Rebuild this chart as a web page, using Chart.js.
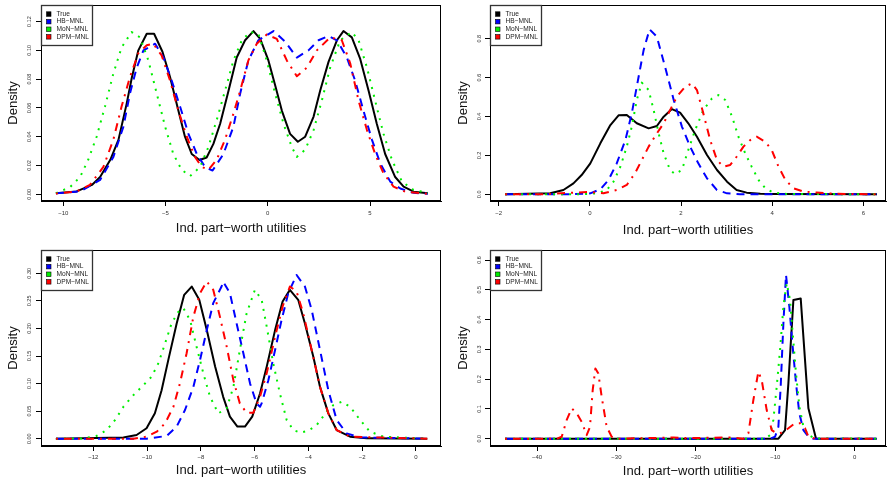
<!DOCTYPE html>
<html>
<head>
<meta charset="utf-8">
<script src="https://cdn.jsdelivr.net/npm/chart.js@4.4.0/dist/chart.umd.min.js"></script>
<style>
  html, body { margin: 0; padding: 0; background: #fff; }
  #wrap { position: relative; width: 887px; height: 482px; }
  .panel { position: absolute; }
</style>
</head>
<body>
<div id="wrap">
  <div class="panel" style="left:0;top:0;width:443px;height:241px"><canvas id="c1"></canvas></div>
  <div class="panel" style="left:443px;top:0;width:444px;height:241px"><canvas id="c2"></canvas></div>
  <div class="panel" style="left:0;top:241px;width:443px;height:241px"><canvas id="c3"></canvas></div>
  <div class="panel" style="left:443px;top:241px;width:444px;height:241px"><canvas id="c4"></canvas></div>
</div>
<script>
const seriesNames = ['True', 'HB\u2212MNL', 'MoN\u2212MNL', 'DPM\u2212MNL'];
const seriesColors = ['#000000', '#0000ff', '#00ee00', '#ff0000'];
const seriesDash = [[], [8, 6], [2, 6], [2, 6, 8, 6]];

const xTitle = 'Ind. part\u2212worth utilities';
const yTitle = 'Density';

// panel 1 (top left), [x, density]
const p1True = [[-10.36,0.0007],[-9.35,0.002],[-8.6,0.0065],[-8.2,0.012],[-7.7,0.024],[-7.3,0.038],[-6.9,0.063],[-6.65,0.081],[-6.33,0.100],[-5.92,0.1115],[-5.56,0.1115],[-5.15,0.099],[-4.78,0.0815],[-4.37,0.058],[-4.05,0.040],[-3.72,0.028],[-3.34,0.0238],[-2.99,0.0256],[-2.66,0.035],[-2.33,0.049],[-1.92,0.072],[-1.52,0.095],[-1.11,0.107],[-0.70,0.1134],[-0.37,0.108],[0.03,0.093],[0.36,0.0757],[0.69,0.058],[1.09,0.042],[1.47,0.0365],[1.83,0.040],[2.24,0.054],[2.56,0.072],[2.97,0.092],[3.38,0.107],[3.70,0.1134],[4.11,0.109],[4.52,0.094],[4.93,0.072],[5.33,0.049],[5.74,0.028],[6.23,0.012],[6.64,0.0053],[7.13,0.0018],[7.83,0.0007]];
const p1HB = [[-10.36,0.0007],[-9.18,0.002],[-8.2,0.010],[-7.55,0.026],[-7.06,0.047],[-6.74,0.070],[-6.41,0.088],[-6.08,0.100],[-5.51,0.1046],[-5.1,0.095],[-4.7,0.079],[-4.29,0.061],[-3.88,0.042],[-3.47,0.028],[-3.07,0.019],[-2.7,0.0165],[-2.17,0.028],[-1.68,0.047],[-1.35,0.070],[-0.95,0.093],[-0.46,0.107],[0.28,0.1134],[0.85,0.106],[1.42,0.095],[1.99,0.100],[2.48,0.107],[2.97,0.110],[3.38,0.107],[3.87,0.095],[4.27,0.079],[4.68,0.058],[5.09,0.038],[5.50,0.0215],[5.99,0.0088],[6.48,0.004],[7.13,0.001],[7.83,0.0004]];
const p1MoN = [[-10.36,0.0007],[-9.67,0.005],[-9.18,0.012],[-8.78,0.024],[-8.37,0.040],[-7.96,0.061],[-7.55,0.084],[-7.15,0.102],[-6.66,0.1127],[-6.25,0.109],[-5.84,0.093],[-5.43,0.070],[-5.02,0.047],[-4.62,0.028],[-4.21,0.017],[-3.8,0.0127],[-3.31,0.019],[-2.9,0.033],[-2.5,0.0515],[-2.09,0.072],[-1.68,0.093],[-1.27,0.107],[-0.86,0.1127],[-0.46,0.1115],[-0.05,0.093],[0.36,0.070],[0.77,0.049],[1.17,0.033],[1.42,0.026],[1.83,0.031],[2.24,0.0446],[2.64,0.065],[3.05,0.088],[3.54,0.107],[4.11,0.1127],[4.44,0.107],[4.85,0.088],[5.25,0.065],[5.66,0.042],[6.07,0.024],[6.56,0.0088],[7.13,0.003],[7.83,0.001]];
const p1DPM = [[-10.36,0.0005],[-9.35,0.002],[-8.7,0.0065],[-8.04,0.019],[-7.55,0.038],[-7.15,0.061],[-6.74,0.0815],[-6.33,0.098],[-5.92,0.1035],[-5.6,0.1046],[-5.19,0.0965],[-4.78,0.079],[-4.37,0.058],[-3.96,0.040],[-3.56,0.026],[-3.23,0.019],[-2.9,0.017],[-2.5,0.024],[-2.09,0.038],[-1.68,0.056],[-1.35,0.072],[-0.95,0.093],[-0.54,0.1046],[-0.05,0.111],[0.44,0.108],[0.93,0.093],[1.42,0.082],[1.91,0.088],[2.4,0.100],[3.05,0.109],[3.62,0.107],[4.03,0.091],[4.44,0.065],[4.85,0.0446],[5.25,0.028],[5.66,0.0145],[6.15,0.0053],[6.72,0.0018],[7.83,0.0004]];
const p1XTicks = [-10, -5, 0, 5];
const p1YTicks = [0, 0.02, 0.04, 0.06, 0.08, 0.10, 0.12];

// panel 2 (top right)
const p2True = [[-1.86,0],[-0.87,0.005],[-0.58,0.022],[-0.36,0.056],[-0.18,0.099],[0.01,0.159],[0.23,0.262],[0.45,0.356],[0.63,0.406],[0.81,0.408],[1.03,0.365],[1.29,0.339],[1.47,0.351],[1.62,0.399],[1.80,0.438],[1.98,0.420],[2.16,0.365],[2.35,0.296],[2.57,0.202],[2.79,0.125],[3.01,0.065],[3.22,0.022],[3.44,0.0086],[3.74,0.003],[4.03,0.0017],[6.30,0]];
const p2HB = [[-1.86,0],[-0.5,0],[0.01,0.005],[0.23,0.026],[0.41,0.074],[0.59,0.159],[0.78,0.279],[0.92,0.416],[1.07,0.604],[1.18,0.741],[1.31,0.848],[1.47,0.810],[1.65,0.656],[1.84,0.485],[2.02,0.348],[2.2,0.245],[2.38,0.159],[2.57,0.082],[2.79,0.022],[3.01,0.005],[3.3,0],[6.30,0]];
const p2MoN = [[-1.86,0],[-0.21,0],[0.15,0.005],[0.37,0.022],[0.52,0.065],[0.67,0.142],[0.81,0.245],[0.92,0.348],[1.03,0.485],[1.14,0.574],[1.29,0.536],[1.40,0.433],[1.51,0.313],[1.62,0.210],[1.76,0.125],[1.87,0.104],[2.02,0.125],[2.16,0.228],[2.31,0.330],[2.49,0.433],[2.68,0.493],[2.82,0.510],[2.97,0.485],[3.12,0.399],[3.26,0.296],[3.41,0.210],[3.55,0.142],[3.70,0.074],[3.85,0.031],[4.03,0.0086],[4.32,0.002],[6.30,0]];
const p2DPM = [[-1.86,0],[-1.09,0],[-0.29,0.009],[0.01,0.012],[0.30,0.005],[0.59,0.022],[0.81,0.048],[0.99,0.108],[1.14,0.176],[1.29,0.245],[1.47,0.313],[1.62,0.365],[1.76,0.433],[1.91,0.502],[2.09,0.553],[2.24,0.570],[2.35,0.536],[2.49,0.416],[2.64,0.279],[2.79,0.176],[2.93,0.142],[3.08,0.151],[3.22,0.193],[3.37,0.245],[3.52,0.279],[3.66,0.296],[3.85,0.270],[3.99,0.228],[4.14,0.142],[4.29,0.074],[4.47,0.031],[4.69,0.014],[4.98,0.009],[5.35,0.003],[6.30,0]];
const p2XTicks = [-2, 0, 2, 4, 6];
const p2YTicks = [0, 0.2, 0.4, 0.6, 0.8];

// panel 3 (bottom left)
const p3True = [[-13.39,0],[-10.88,0.002],[-10.39,0.0067],[-10.02,0.019],[-9.71,0.046],[-9.46,0.088],[-9.21,0.143],[-8.9,0.209],[-8.62,0.261],[-8.34,0.276],[-8.06,0.252],[-7.78,0.197],[-7.47,0.131],[-7.17,0.076],[-6.92,0.040],[-6.64,0.022],[-6.36,0.022],[-6.09,0.040],[-5.8,0.082],[-5.55,0.131],[-5.24,0.197],[-4.96,0.249],[-4.69,0.270],[-4.38,0.252],[-4.13,0.209],[-3.82,0.149],[-3.57,0.094],[-3.26,0.046],[-2.95,0.0157],[-2.45,0.0036],[-1.83,0.0006],[0.42,0]];
const p3HB = [[-13.39,0],[-10.02,0],[-9.27,0.005],[-8.9,0.022],[-8.59,0.052],[-8.28,0.094],[-8.03,0.143],[-7.78,0.197],[-7.54,0.246],[-7.23,0.276],[-7.17,0.285],[-6.92,0.264],[-6.67,0.209],[-6.42,0.155],[-6.17,0.100],[-5.93,0.064],[-5.8,0.058],[-5.74,0.064],[-5.49,0.106],[-5.24,0.161],[-5.0,0.215],[-4.75,0.264],[-4.44,0.297],[-4.13,0.276],[-3.88,0.234],[-3.57,0.161],[-3.26,0.088],[-2.95,0.034],[-2.58,0.0097],[-2.08,0.0024],[0.42,0]];
const p3MoN = [[-13.39,0],[-12.37,0.0006],[-11.88,0.005],[-11.5,0.0157],[-11.19,0.034],[-10.88,0.058],[-10.51,0.079],[-10.14,0.097],[-9.83,0.1125],[-9.58,0.137],[-9.33,0.173],[-9.09,0.209],[-8.84,0.230],[-8.65,0.237],[-8.4,0.215],[-8.16,0.167],[-7.91,0.119],[-7.66,0.076],[-7.35,0.046],[-7.04,0.055],[-6.79,0.094],[-6.55,0.161],[-6.3,0.227],[-5.99,0.270],[-5.74,0.252],[-5.55,0.203],[-5.31,0.137],[-5.06,0.082],[-4.81,0.034],[-4.56,0.0157],[-4.31,0.011],[-4.0,0.0145],[-3.69,0.025],[-3.32,0.049],[-3.07,0.061],[-2.76,0.067],[-2.45,0.058],[-2.08,0.034],[-1.71,0.0127],[-1.21,0.0036],[0.42,0]];
const p3DPM = [[-13.39,0],[-10.51,0],[-10.02,0.0036],[-9.64,0.0127],[-9.33,0.028],[-9.02,0.058],[-8.78,0.100],[-8.53,0.155],[-8.28,0.221],[-8.03,0.264],[-7.78,0.285],[-7.54,0.270],[-7.29,0.221],[-7.04,0.167],[-6.79,0.106],[-6.55,0.064],[-6.3,0.047],[-6.05,0.047],[-5.8,0.076],[-5.55,0.119],[-5.24,0.185],[-4.96,0.240],[-4.69,0.276],[-4.44,0.267],[-4.19,0.227],[-3.88,0.161],[-3.57,0.094],[-3.26,0.046],[-2.95,0.0157],[-2.45,0.0036],[0.42,0]];
const p3XTicks = [-12, -10, -8, -6, -4, -2, 0];
const p3YTicks = [0, 0.05, 0.10, 0.15, 0.20, 0.25, 0.30];

// panel 4 (bottom right)
const p4True = [[-44.03,0],[-9.61,0],[-8.77,0.029],[-8.35,0.186],[-7.72,0.466],[-6.8,0.471],[-5.83,0.102],[-4.87,0],[2.77,0]];
const p4HB = [[-44.03,0],[-10.66,0],[-10.03,0.0067],[-9.61,0.040],[-9.32,0.175],[-8.98,0.387],[-8.65,0.550],[-8.23,0.443],[-7.81,0.309],[-7.39,0.186],[-6.97,0.085],[-6.46,0.029],[-5.83,0.0067],[-5.2,0],[2.77,0]];
const p4MoN = [[-44.03,0],[-11.29,0],[-10.66,0.012],[-10.24,0.063],[-9.82,0.175],[-9.4,0.298],[-8.98,0.443],[-8.56,0.522],[-8.14,0.466],[-7.81,0.354],[-7.39,0.219],[-6.97,0.108],[-6.46,0.040],[-5.83,0.012],[-4.99,0.001],[2.77,0]];
const p4DPM = [[-44.03,0],[-37.52,0],[-36.89,0.0067],[-36.26,0.063],[-35.63,0.102],[-35.0,0.085],[-34.38,0.057],[-33.75,0.012],[-33.33,0.040],[-32.99,0.163],[-32.65,0.236],[-32.28,0.219],[-31.86,0.141],[-31.23,0.040],[-30.6,0.0067],[-29.76,0],[-22.83,0.004],[-21.57,0.002],[-15.7,0.004],[-14.02,0],[-13.39,0.018],[-12.76,0.130],[-12.13,0.225],[-11.71,0.197],[-11.08,0.096],[-10.45,0.029],[-9.82,0.018],[-9.19,0.020],[-8.35,0.035],[-7.51,0.052],[-6.88,0.052],[-6.25,0.035],[-5.83,0.0067],[-4.99,0],[2.77,0]];
const p4XTicks = [-40, -30, -20, -10, 0];
const p4YTicks = [0, 0.1, 0.2, 0.3, 0.4, 0.5, 0.6];

const FONT = "'Liberation Sans', Arial, Helvetica, sans-serif";

// frame around the plot region plus the R-style legend in the top left corner
const boxLegend = {
  id: 'boxLegend',
  afterDraw(chart) {
    const ctx = chart.ctx;
    const a = chart.chartArea;
    ctx.save();
    ctx.strokeStyle = '#000';
    ctx.lineWidth = 1;
    ctx.strokeRect(Math.round(a.left) + 0.5, Math.round(a.top) + 0.5,
      Math.round(a.right - a.left) - 1, Math.round(a.bottom - a.top) - 1);

    const lx = Math.round(a.left) + 0.5, ly = Math.round(a.top) + 0.5;
    ctx.fillStyle = '#fff';
    ctx.fillRect(lx, ly, 51, 40);
    ctx.strokeStyle = '#333';
    ctx.lineWidth = 1.3;
    ctx.strokeRect(lx, ly, 51, 40);

    ctx.font = '6.6px ' + FONT;
    ctx.textBaseline = 'middle';
    ctx.textAlign = 'left';
    seriesNames.forEach((name, i) => {
      const cy = ly + 8.5 + i * 7.6;
      ctx.fillStyle = seriesColors[i];
      ctx.fillRect(lx + 5, cy - 2.2, 4.5, 4.5);
      ctx.strokeStyle = '#000';
      ctx.lineWidth = 0.6;
      ctx.strokeRect(lx + 5, cy - 2.2, 4.5, 4.5);
      ctx.fillStyle = '#222';
      ctx.fillText(name, lx + 15, cy);
    });
    ctx.restore();
  }
};

function drawPanel(id, lines, xr, yr, xTicks, yTicks, digits, lay) {
  new Chart(document.getElementById(id), {
    type: 'line',
    data: {
      datasets: lines.map((pts, i) => ({
        label: seriesNames[i],
        data: pts.map(p => ({ x: p[0], y: p[1] })),
        borderColor: seriesColors[i],
        borderDash: seriesDash[i],
        borderWidth: 2,
        borderCapStyle: 'butt',
        borderJoinStyle: 'round',
        pointRadius: 0,
        tension: 0,
        fill: false,
        order: lines.length - i
      }))
    },
    options: {
      responsive: true,
      maintainAspectRatio: false,
      animation: false,
      events: [],
      layout: { padding: { top: lay.top, right: lay.right, left: 0, bottom: 0 } },
      plugins: { legend: { display: false }, tooltip: { enabled: false } },
      scales: {
        x: {
          type: 'linear',
          min: xr[0], max: xr[1],
          afterBuildTicks: s => { s.ticks = xTicks.map(v => ({ value: v })); },
          afterFit: s => { s.height = lay.xh; },
          grid: { drawOnChartArea: false, drawTicks: true, tickLength: 5, color: '#000' },
          border: { display: true, color: '#000' },
          ticks: {
            color: '#333', padding: lay.xtp, maxRotation: 0, autoSkip: false,
            font: { family: FONT, size: 6 },
            callback: v => String(v).replace('-', '\u2212')
          },
          title: {
            display: true, text: xTitle, color: '#111',
            font: { family: FONT, size: 13 },
            padding: { top: 0, bottom: lay.xtt }
          }
        },
        y: {
          type: 'linear',
          min: yr[0], max: yr[1],
          afterBuildTicks: s => { s.ticks = yTicks.map(v => ({ value: v })); },
          afterFit: s => { s.width = lay.yw; },
          grid: { drawOnChartArea: false, drawTicks: true, tickLength: 5, color: '#000' },
          border: { display: true, color: '#000' },
          ticks: {
            color: '#333', padding: 1.3, minRotation: 90, maxRotation: 90,
            crossAlign: 'center', autoSkip: false,
            font: { family: FONT, size: 5.5 },
            callback: v => Number(v).toFixed(digits)
          },
          title: {
            display: true, text: yTitle, color: '#111',
            font: { family: FONT, size: 13 },
            padding: { top: lay.ytt, bottom: 0 }
          }
        }
      }
    },
    plugins: [boxLegend]
  });
}

drawPanel('c1', [p1True, p1HB, p1MoN, p1DPM], [-11.09, 8.47], [-0.00465, 0.1315], p1XTicks, p1YTicks, 2,
  { top: 5, right: 2, xh: 40, yw: 41, xtp: 3.7, xtt: 5, ytt: 5.5 });
drawPanel('c2', [p2True, p2HB, p2MoN, p2DPM], [-2.191, 6.498], [-0.0344, 0.973], p2XTicks, p2YTicks, 1,
  { top: 5, right: 1, xh: 40, yw: 47, xtp: 3.7, xtt: 3.2, ytt: 12.5 });
drawPanel('c3', [p3True, p3HB, p3MoN, p3DPM], [-13.945, 0.93], [-0.01324, 0.3423], p3XTicks, p3YTicks, 2,
  { top: 9, right: 2, xh: 36, yw: 41, xtp: 2.7, xtt: 4.2, ytt: 5.5 });
drawPanel('c4', [p4True, p4HB, p4MoN, p4DPM], [-45.92, 3.94], [-0.0245, 0.6336], p4XTicks, p4YTicks, 1,
  { top: 9, right: 1, xh: 36, yw: 47, xtp: 2.7, xtt: 2.5, ytt: 12.5 });
</script>
</body>
</html>
